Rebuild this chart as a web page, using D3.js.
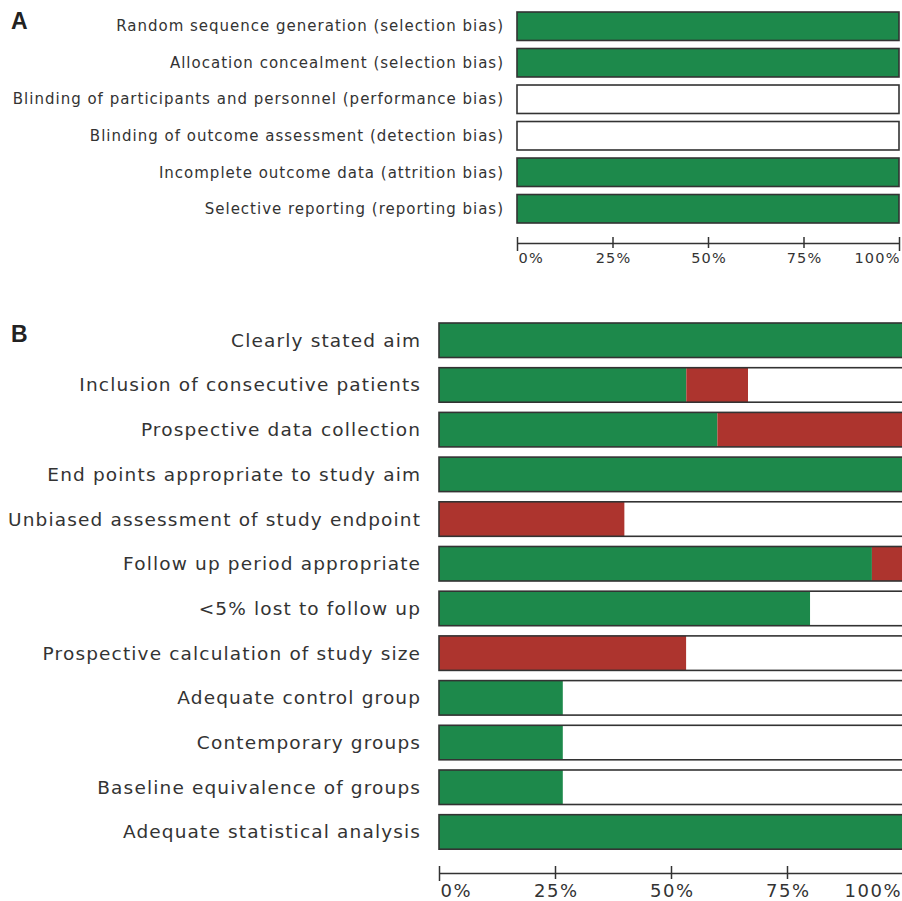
<!DOCTYPE html>
<html>
<head>
<meta charset="utf-8">
<script src="https://cdn.jsdelivr.net/npm/d3@7"></script>
<style>
  html, body { margin: 0; padding: 0; background: #fff; overflow: hidden; }
  svg { display: block; }
</style>
</head>
<body>
<svg id="chart" width="902" height="901"></svg>
<script>
// ---------- Data ----------
const categoriesA = [
  "Random sequence generation (selection bias)",
  "Allocation concealment (selection bias)",
  "Blinding of participants and personnel (performance bias)",
  "Blinding of outcome assessment (detection bias)",
  "Incomplete outcome data (attrition bias)",
  "Selective reporting (reporting bias)"
];
const lowRiskA     = [100, 100, 0, 0, 100, 100];
const highRiskA    = [0, 0, 0, 0, 0, 0];
const unclearRiskA = [0, 0, 100, 100, 0, 0];

const categoriesB = [
  "Clearly stated aim",
  "Inclusion of consecutive patients",
  "Prospective data collection",
  "End points appropriate to study aim",
  "Unbiased assessment of study endpoint",
  "Follow up period appropriate",
  "<5% lost to follow up",
  "Prospective calculation of study size",
  "Adequate control group",
  "Contemporary groups",
  "Baseline equivalence of groups",
  "Adequate statistical analysis"
];
const lowRiskB     = [100, 53.3, 60, 100, 0, 93.3, 80, 0, 26.7, 26.7, 26.7, 100];
const highRiskB    = [0, 13.3, 40, 0, 40, 6.7, 0, 53.3, 0, 0, 0, 0];
const unclearRiskB = [0, 33.4, 0, 0, 60, 0, 20, 46.7, 73.3, 73.3, 73.3, 0];

const tickValues = [0, 25, 50, 75, 100];
const tickLabels = ["0%", "25%", "50%", "75%", "100%"];
const panelLetters = ["A", "B"];

// ---------- Styles ----------
const GREEN = "#1d894b";
const RED = "#ad342e";
const BORDER = "#333";
const TEXT = "#333";
const FONT = "DejaVu Sans, Verdana, sans-serif";

const svg = d3.select("#chart");

function drawPanel(cfg) {
  const { cats, low, high, unclear, x, y, labelX, labelSize, labelSpacing, axisY, tickUp, tickDown, endDown, tickFont, tickSpacing, tickBaseline, lastShift } = cfg;
  const g = svg.append("g");

  const rows = cats.map((c, i) => ({
    cat: c,
    segs: [
      { start: 0, val: low[i], color: GREEN },
      { start: low[i], val: high[i], color: RED },
      { start: low[i] + high[i], val: unclear[i], color: "#fff" }
    ]
  }));

  const row = g.selectAll("g.row").data(rows).join("g").attr("class", "row");

  row.selectAll("rect.seg")
    .data(d => d.segs.filter(s => s.val > 0).map(s => Object.assign({ cat: d.cat }, s)))
    .join("rect")
    .attr("class", "seg")
    .attr("x", s => x(s.start))
    .attr("width", s => x(s.start + s.val) - x(s.start))
    .attr("y", s => y(s.cat))
    .attr("height", y.bandwidth())
    .attr("fill", s => s.color);

  row.append("rect")
    .attr("x", x(0))
    .attr("width", x(100) - x(0))
    .attr("y", d => y(d.cat))
    .attr("height", y.bandwidth())
    .attr("fill", "none")
    .attr("stroke", BORDER)
    .attr("stroke-width", 1.6);

  row.append("text")
    .attr("x", labelX + labelSpacing)
    .attr("y", d => y(d.cat) + y.bandwidth() / 2)
    .attr("dy", "0.35em")
    .attr("text-anchor", "end")
    .attr("font-family", FONT)
    .attr("font-size", labelSize)
    .attr("letter-spacing", labelSpacing)
    .attr("fill", TEXT)
    .text(d => d.cat);

  // axis
  const axis = d3.axisBottom(x)
    .tickValues(tickValues)
    .tickFormat((d, i) => tickLabels[i])
    .tickSizeOuter(0)
    .tickSizeInner(tickDown);
  const ag = g.append("g").attr("transform", `translate(0,${axisY})`).call(axis);
  ag.select(".domain").attr("stroke", BORDER).attr("stroke-width", 1.5);
  ag.selectAll(".tick line")
    .attr("stroke", BORDER)
    .attr("stroke-width", 1.5)
    .attr("y1", -tickUp)
    .attr("y2", (d, i) => (i === 0 || i === tickValues.length - 1) ? endDown : tickDown);
  const last = tickValues.length - 1;
  ag.selectAll(".tick text")
    .attr("font-family", FONT)
    .attr("font-size", tickFont)
    .attr("letter-spacing", tickSpacing)
    .attr("fill", TEXT)
    .attr("y", tickBaseline)
    .attr("dy", 0)
    .attr("x", (d, i) => i === 0 ? 1 : (i === last ? tickSpacing - lastShift : tickSpacing / 2))
    .attr("text-anchor", (d, i) => i === 0 ? "start" : (i === last ? "end" : "middle"));
}

// Panel A
const xA = d3.scaleLinear().domain([0, 100]).range([517, 899]);
const yA = d3.scaleBand().domain(categoriesA).range([12, 223]).paddingInner(0.22).paddingOuter(0);
drawPanel({
  cats: categoriesA, low: lowRiskA, high: highRiskA, unclear: unclearRiskA,
  x: xA, y: yA, labelX: 503, labelSize: 15, labelSpacing: 1.0,
  axisY: 243, tickUp: 6, tickDown: 5, endDown: 8, tickFont: 14.5, tickSpacing: 1.2, tickBaseline: 20, lastShift: 0
});

// Panel B
const xB = d3.scaleLinear().domain([0, 100]).range([439, 903]);
const yB = d3.scaleBand().domain(categoriesB).range([323, 849.2]).paddingInner(0.228).paddingOuter(0);
drawPanel({
  cats: categoriesB, low: lowRiskB, high: highRiskB, unclear: unclearRiskB,
  x: xB, y: yB, labelX: 420, labelSize: 18.5, labelSpacing: 1.15,
  axisY: 873, tickUp: 7, tickDown: 6, endDown: 8, tickFont: 18, tickSpacing: 1.5, tickBaseline: 24, lastShift: 3
});

// Panel letters
svg.selectAll("text.letter")
  .data(panelLetters)
  .join("text")
  .attr("class", "letter")
  .attr("x", 11)
  .attr("y", (d, i) => i === 0 ? 29 : 342)
  .attr("font-family", "Liberation Sans, Arial, sans-serif")
  .attr("font-weight", "bold")
  .attr("font-size", 23)
  .attr("fill", "#222")
  .text(d => d);
</script>
</body>
</html>
